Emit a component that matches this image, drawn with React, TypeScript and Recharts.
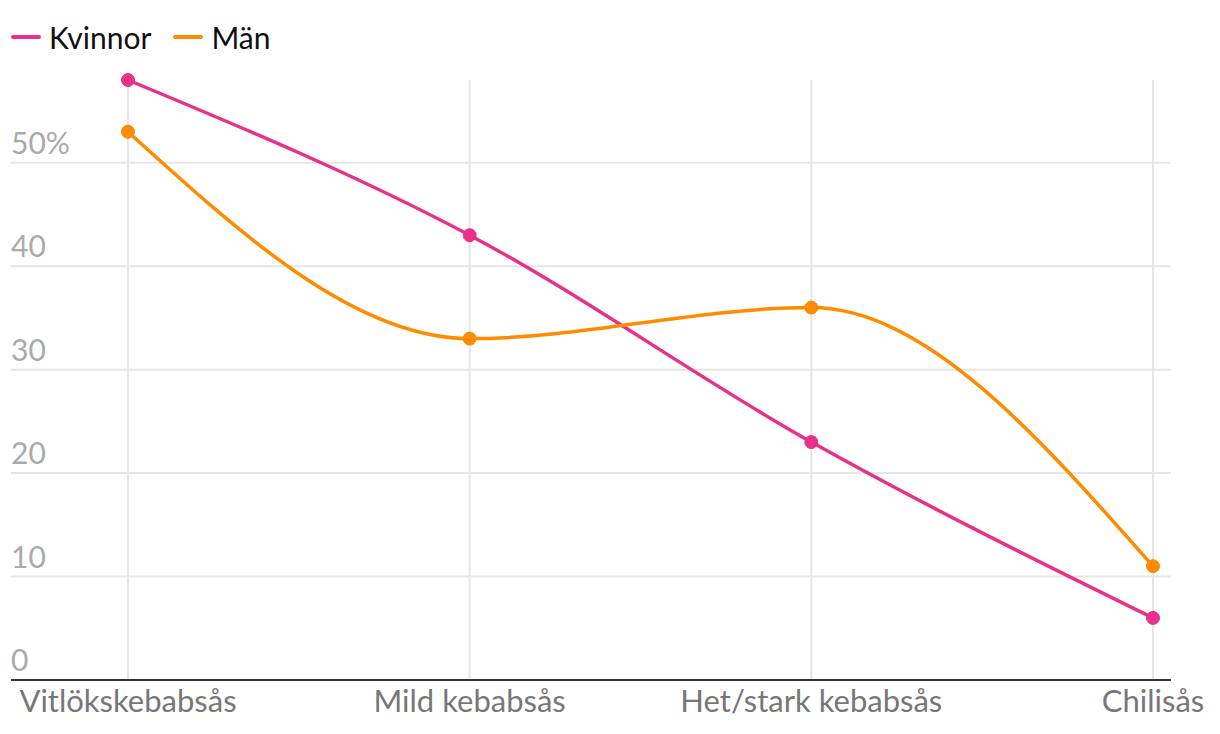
import { LineChart, Line, XAxis, YAxis, CartesianGrid } from "recharts";

const categories = ["Vitlökskebabsås", "Mild kebabsås", "Het/stark kebabsås", "Chilisås"];
const kvinnor = [58, 43, 23, 6];
const man = [53, 33, 36, 11];
const yTicks = [0, 10, 20, 30, 40, 50];
const gridValues = [10, 20, 30, 40, 50];

const PINK = "#E8318A";
const ORANGE = "#FF8C00";
const FONT = "Lato, 'Open Sans', sans-serif";

const data = categories.map((name, i) => ({ name, Kvinnor: kvinnor[i], "Män": man[i] }));

const YTick = ({ y, payload }: any) => (
  <text x={11} y={y - 9} fill="#aaa" fontSize={30} fontFamily={FONT} textAnchor="start">
    {payload.value === 50 ? "50%" : payload.value}
  </text>
);

const XTick = ({ x, y, payload }: any) => (
  <text x={x} y={y + 24} fill="#777" fontSize={31} fontFamily={FONT} textAnchor="middle">
    {payload.value}
  </text>
);

const legendItems = [
  { label: "Kvinnor", color: PINK },
  { label: "Män", color: ORANGE },
];

export default function App() {
  return (
    <div style={{ margin: -8, background: "#fff", width: 1220, height: 734, position: "relative" }}>
      <div
        style={{
          position: "absolute",
          top: 20,
          left: 11,
          display: "flex",
          alignItems: "center",
          fontFamily: FONT,
          fontSize: 30,
          color: "#111",
          lineHeight: "34px",
        }}
      >
        {legendItems.map((it) => (
          <div key={it.label} style={{ display: "flex", alignItems: "center", marginRight: 22 }}>
            <span style={{ display: "inline-block", width: 30, height: 4, borderRadius: 2, background: it.color, marginRight: 8 }} />
            <span>{it.label}</span>
          </div>
        ))}
      </div>
      <LineChart width={1220} height={734} data={data} margin={{ top: 80, right: 49, left: 11, bottom: 0 }}>
        <CartesianGrid stroke="#e6e6e6" strokeWidth={2} horizontalValues={gridValues} verticalValues={categories} />
        <XAxis
          dataKey="name"
          height={54}
          axisLine={{ stroke: "#333", strokeWidth: 2 }}
          tickLine={false}
          tick={<XTick />}
          padding={{ left: 117, right: 18 }}
          interval={0}
        />
        <YAxis
          domain={[0, 58]}
          ticks={yTicks}
          mirror
          axisLine={false}
          tickLine={false}
          tick={<YTick />}
        />
        <Line
          type="monotone"
          dataKey="Kvinnor"
          stroke={PINK}
          strokeWidth={3.5}
          dot={{ r: 6.5, fill: PINK, stroke: PINK, strokeWidth: 1 }}
          isAnimationActive={false}
        />
        <Line
          type="monotone"
          dataKey="Män"
          stroke={ORANGE}
          strokeWidth={3.5}
          dot={{ r: 6.5, fill: ORANGE, stroke: ORANGE, strokeWidth: 1 }}
          isAnimationActive={false}
        />
      </LineChart>
    </div>
  );
}
